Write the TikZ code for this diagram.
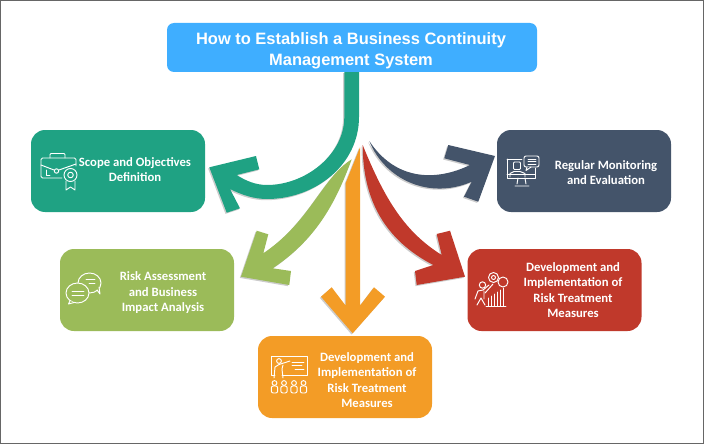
\documentclass[tikz,border=0pt]{standalone}
\usepackage{fontspec}
\setmainfont{Carlito}
\newfontfamily\titlefont{Liberation Sans}
\usetikzlibrary{shadows}
\definecolor{cTitle}{HTML}{3FAEFF}
\definecolor{cTeal}{HTML}{1FA283}
\definecolor{cNavy}{HTML}{44546A}
\definecolor{cGreen}{HTML}{9BBB59}
\definecolor{cRed}{HTML}{C0392B}
\definecolor{cOrange}{HTML}{F39C26}
\tikzset{
  box/.style={rounded corners=14pt,minimum width=174pt,minimum height=82pt,inner sep=0pt},
  lbl/.style={text=white,align=center,inner sep=0pt,font=\fontsize{12.7}{15.5}\selectfont\bfseries},
  arr/.style={drop shadow={shadow xshift=-1.2pt,shadow yshift=-1.2pt,fill=black,opacity=.2}},
  icon/.style={draw=white,line width=.95pt,line join=round,line cap=round}
}
\begin{document}
\begin{tikzpicture}[x=1pt,y=-1pt]
\useasboundingbox (0,0) rectangle (704,444);
\draw[black!60,line width=.6pt] (.3,.3) rectangle (703.7,443.7);

\coordinate (s1) at (344.3,72);
\coordinate (s2) at (351.7,159.3);
\coordinate (s3) at (360,147.3);
\coordinate (s4) at (362.7,145);
\coordinate (s5) at (369.3,141);
\coordinate (t1) at (209.3,167.3);
\coordinate (t2) at (241,276.7);
\coordinate (t3) at (352.7,333.3);
\coordinate (t4) at (465,276.7);
\coordinate (t5) at (495,156);

\path[fill=cTeal,arr] (s1) -- (344.3,117) .. controls (344.3,155) and (305,185) .. (267,185)
  .. controls (256,185) and (246,181) .. (236.7,175) -- (259.3,169.3) -- (256,156) -- (t1)
  -- (226.7,212.7) -- (240,208.3) -- (230,189) .. controls (242,195) and (254,199) .. (267,199)
  .. controls (315,199) and (359,165) .. (359,117) -- (359,72) -- cycle;
\path[fill=cGreen,arr] (s2) .. controls (322,178) and (310,222) .. (263.3,253.3) -- (268.3,234.3)
  -- (256.7,230.7) -- (t2) -- (289.3,285) -- (291,271) -- (272.7,268.3)
  .. controls (315,240) and (335,205) .. (s2) -- cycle;
\path[fill=cOrange,arr] (s3) -- (345.7,183) -- (345.7,305.7) -- (331.7,287.3) -- (321,296.7)
  -- (t3) -- (385,296.7) -- (374,287.3) -- (360,305.7) -- cycle;
\path[fill=cRed,arr] (s4) .. controls (362.7,200) and (385,240) .. (433.3,265) -- (415,271)
  -- (416.7,285) -- (t4) -- (450,230.7) -- (436.7,234) -- (441.7,255)
  .. controls (405,232) and (385,200) .. (s4) -- cycle;
\path[fill=cNavy,arr] (s5) .. controls (385,180) and (430,200) .. (471.7,181.7) -- (464,196.7)
  -- (478.3,201.7) -- (t5) -- (448.3,145) -- (444.3,158.3) -- (470,165)
  .. controls (435,182) and (395,180) .. (s5) -- cycle;

\node[rounded corners=7pt,minimum width=370pt,minimum height=49pt,inner sep=0pt,fill=cTitle] (0) at (352,47.5) {};
\node[box,fill=cTeal] (1) at (118,171) {};
\node[box,fill=cGreen] (2) at (147,290) {};
\node[box,fill=cOrange] (3) at (345,377) {};
\node[box,fill=cRed] (4) at (554.5,290) {};
\node[box,fill=cNavy] (5) at (584,171) {};

\node[text=white,align=center,inner sep=0pt,font=\titlefont\fontsize{16.45}{20.5}\selectfont\bfseries] (0t) at (351,51) {How to Establish a Business Continuity\\Management System};
\node[lbl] (1t) at (135,169.5) {Scope and Objectives\\Definition};
\node[lbl] (2t) at (163,293) {Risk Assessment\\and Business\\Impact Analysis};
\node[lbl] (3t) at (367,380) {Development and\\Implementation of\\Risk Treatment\\Measures};
\node[lbl] (4t) at (573,290) {Development and\\Implementation of\\Risk Treatment\\Measures};
\node[lbl] (5t) at (606,172.5) {Regular Monitoring\\and Evaluation};

\draw[icon,rounded corners=1.5pt] (62,178) -- (41,178) -- (41,158) -- (76,158) -- (76,166);
\draw[icon,rounded corners=1pt] (50,158) -- (50,153.5) -- (65,153.5) -- (65,158);
\draw[icon] (41,165) -- (54,170) (59,170) -- (76,164);
\draw[icon] (56.5,171) circle (2.2);
\draw[icon] (46,170) -- (46,175) -- (50,175);
\draw[icon,fill=cTeal] (70.5,175) circle (6.5);
\draw[icon] (70.5,175) circle (2.8);
\draw[icon] (66,181) -- (66,190) -- (70.5,187) -- (75,190) -- (75,181);

\draw[icon,fill=cGreen] (89.5,283) circle [x radius=11.5,y radius=10];
\draw[icon,fill=cGreen] (97,290) -- (100,294) -- (99,287);
\draw[icon] (86,279.5) -- (95,279.5) (89,283) -- (95,283);
\draw[icon,fill=cGreen] (77.5,293) circle [x radius=11.5,y radius=10];
\draw[icon,fill=cGreen] (70,301) -- (68.5,304) -- (74,302.5);
\draw[icon] (72,291) -- (84,291) (72,295.5) -- (84,295.5);

\draw[icon] (482.5,285) circle (3.2);
\draw[icon] (475,299) -- (478,291) -- (483,290) -- (489,285) (477,305) -- (481,298) -- (485,305) (484,291) -- (484,299);
\draw[icon] (493.5,277.5) circle (5);
\draw[icon] (493.5,277.5) circle (2);
\draw[icon] (503,282) circle (5);
\draw[icon] (485,293) -- (493,284);
\foreach \i/\j in {488/298,491/296,494/294,497/292,500/290,503/288} {
  \draw[icon] (\i,\j) -- (\i,306);
}
\draw[icon] (486,306.5) -- (506,306.5);

\draw[icon] (279,356) -- (271,356) -- (271,375) -- (275,375) (282,375) -- (307,375) -- (307,356) -- (279,356);
\draw[icon] (279,361) circle (2.4);
\draw[icon] (274,378) -- (275,367) -- (279,364.5) -- (290,361) (283,378) -- (282,369) -- (283,365);
\draw[icon] (292,362) -- (304,362) (292,365.5) -- (302,365.5) (295,369) -- (304,369);
\foreach \i in {274.5,284,294,303.5} {
  \draw[icon] (\i,383) circle (2.4);
  \draw[icon,rounded corners=2pt] (\i-3.2,386) rectangle (\i+3.2,393);
}

\draw[icon] (507,159) -- (507,178) -- (535,178) -- (535,168) (507,159) -- (522,159);
\draw[icon] (507,174) -- (535,174);
\draw[icon] (518,178) -- (517,184) (525,178) -- (526,184) (515,186) -- (529,186);
\draw[icon,rounded corners=1pt] (513.5,162) rectangle (520.5,169.5);
\draw[icon] (510,177) -- (510,173.5) -- (514,171.5) -- (520,171.5) -- (525,173.5) -- (525,177);
\draw[icon,rounded corners=2pt,fill=cNavy] (524,156) rectangle (539,167);
\draw[icon,fill=cNavy] (527,167) -- (526,170.5) -- (531,167);
\draw[icon] (528,159) -- (536,159) (528,161.5) -- (536,161.5) (528,164) -- (536,164);
\end{tikzpicture}
\end{document}
